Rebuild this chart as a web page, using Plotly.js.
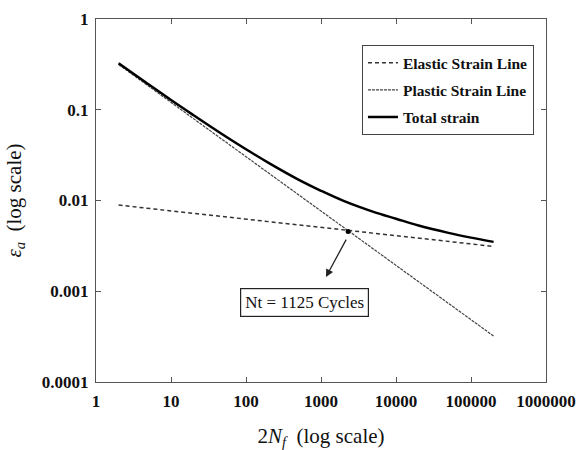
<!DOCTYPE html>
<html>
<head>
<meta charset="utf-8">
<script src="https://cdn.plot.ly/plotly-3.0.1.min.js"></script>
<style>html,body{margin:0;padding:0;background:#fff;}#chart{width:579px;height:450px;}</style>
</head>
<body>
<div id="chart"></div>
<script>
// Reversals (2Nf) and strain amplitudes
const elasticX = [2, 200000];
const elasticY = [0.0089, 0.00312];
const plasticX = [2, 200000];
const plasticY = [0.316, 0.000321];
const totalX = [2, 5, 10, 20, 50, 100, 200, 500, 1000, 2000, 5000, 10000, 20000, 50000, 100000, 200000];
const totalY = [0.325, 0.191, 0.128, 0.087, 0.0527, 0.0367, 0.026, 0.017, 0.0128, 0.0099, 0.0075, 0.0063, 0.0053, 0.0044, 0.0039, 0.0035];
const crossX = [2300];
const crossY = [0.00455];
const xTickVals = [1, 10, 100, 1000, 10000, 100000, 1000000];
const xTickText = ['1', '10', '100', '1000', '10000', '100000', '1000000'];
const yTickVals = [0.0001, 0.001, 0.01, 0.1, 1];
const yTickText = ['0.0001', '0.001', '0.01', '0.1', '1'];
const seriesNames = ['Elastic Strain Line', 'Plastic Strain Line', 'Total strain'];
const noteText = 'Nt = 1125 Cycles';

const serif = 'Liberation Serif, Times New Roman, serif';

const traces = [
  {x: elasticX, y: elasticY, mode: 'lines', name: seriesNames[0], legendgroup: 'a',
   line: {color: '#333', width: 1.5, dash: '4px,3px'}},
  {x: plasticX, y: plasticY, mode: 'lines', name: seriesNames[1], legendgroup: 'b',
   line: {color: '#444', width: 1.2, dash: '3px,1px'}},
  {x: totalX, y: totalY, mode: 'lines', name: seriesNames[2], legendgroup: 'c',
   line: {color: '#000', width: 2.5, shape: 'spline'}},
  {x: crossX, y: crossY, mode: 'markers', showlegend: false,
   marker: {color: '#000', size: 5}}
];

const axisCommon = {
  type: 'log', showgrid: false, zeroline: false, showline: true, linecolor: '#555', linewidth: 1,
  mirror: 'ticks', ticks: 'inside', ticklen: 5, tickcolor: '#555', tickwidth: 1,
  tickfont: {family: serif, size: 17, color: '#111', weight: 'bold'}
};

const layout = {
  width: 579, height: 450,
  margin: {l: 96, r: 33, t: 19, b: 68},
  paper_bgcolor: '#fff', plot_bgcolor: '#fff',
  showlegend: true,
  xaxis: Object.assign({}, axisCommon, {
    range: [0, 6], tickvals: xTickVals, ticktext: xTickText, ticklabelstandoff: 4,
    title: {text: '2<i>N</i><sub><i>f</i></sub>  (log scale)', font: {family: serif, size: 21, color: '#111'}, standoff: 24}
  }),
  yaxis: Object.assign({}, axisCommon, {
    range: [-4, 0], tickvals: yTickVals, ticktext: yTickText, ticklabelstandoff: 3,
    title: {text: '<i>ε</i><sub><i>a</i></sub>  (log scale)', font: {family: serif, size: 21, color: '#111'}, standoff: 14}
  }),
  legend: {
    x: 0.591, y: 0.928, xanchor: 'left', yanchor: 'top',
    bordercolor: '#444', borderwidth: 1, bgcolor: '#fff',
    traceorder: 'grouped', tracegroupgap: 4,
    font: {family: serif, size: 15.5, color: '#111', weight: 'bold'}
  },
  annotations: [
    {xref: 'paper', yref: 'paper', x: 0.464, y: 0.218, xanchor: 'center', yanchor: 'middle',
     text: noteText, showarrow: false,
     font: {family: serif, size: 17, color: '#111'}, bordercolor: '#222', borderwidth: 1.2,
     borderpad: 4, bgcolor: '#fff'},
    {xref: 'paper', yref: 'paper', x: 0.511, y: 0.289, text: '', showarrow: true,
     arrowhead: 2, arrowsize: 1.2, arrowwidth: 1.3, arrowcolor: '#222', ax: 21, ay: -39, standoff: 0}
  ]
};

Plotly.newPlot('chart', traces, layout, {displayModeBar: false, staticPlot: true});
</script>
</body>
</html>
